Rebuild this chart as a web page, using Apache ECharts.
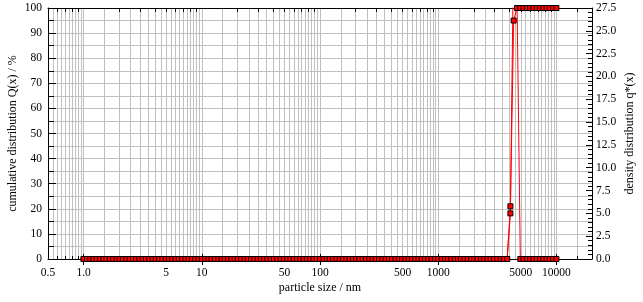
<!DOCTYPE html>
<html><head><meta charset="utf-8">
<script src="https://cdn.jsdelivr.net/npm/echarts@6/dist/echarts.min.js"></script>
<style>html,body{margin:0;padding:0;background:#fff}#c{width:643px;height:302px}</style>
</head><body><div id="c"></div>
<script>
// particle size classes (nm)
const sizes = [
 1.00,1.07,1.14,1.21,1.29,1.38,1.47,1.56,1.67,1.78,1.90,2.02,2.15,2.30,2.45,2.61,2.78,2.97,3.16,3.37,3.59,3.83,4.08,4.35,4.64,4.95,5.27,5.62,5.99,6.39,6.81,7.26,7.74,8.25,8.80,9.38,
 10.0,10.7,11.4,12.1,12.9,13.8,14.7,15.6,16.7,17.8,19.0,20.2,21.5,23.0,24.5,26.1,27.8,29.7,31.6,33.7,35.9,38.3,40.8,43.5,46.4,49.5,52.7,56.2,59.9,63.9,68.1,72.6,77.4,82.5,88.0,93.8,
 100,107,114,121,129,138,147,156,167,178,190,202,215,230,245,261,278,297,316,337,359,383,408,435,464,495,527,562,599,639,681,726,774,825,880,938,
 1000,1070,1140,1210,1290,1380,1470,1560,1670,1780,1900,2020,2150,2300,2450,2610,2780,2970,3160,3370,3590,3830,4080,4350,4640,4950,5270,5620,5990,6390,6810,7260,7740,8250,8800,9380,
 10000
];
// cumulative distribution Q(x) / %
const cumQ = [
 0,0,0,0,0,0,0,0,0,0,0,0,0,0,0,0,0,0,0,0,0,0,0,0,0,0,0,0,0,0,0,0,0,0,0,0,
 0,0,0,0,0,0,0,0,0,0,0,0,0,0,0,0,0,0,0,0,0,0,0,0,0,0,0,0,0,0,0,0,0,0,0,0,
 0,0,0,0,0,0,0,0,0,0,0,0,0,0,0,0,0,0,0,0,0,0,0,0,0,0,0,0,0,0,0,0,0,0,0,0,
 0,0,0,0,0,0,0,0,0,0,0,0,0,0,0,0,0,0,0,0,0,0,21,95,100,100,100,100,100,100,100,100,100,100,100,100,
 100
];
// density distribution q*(x)
const densQ = [
 0,0,0,0,0,0,0,0,0,0,0,0,0,0,0,0,0,0,0,0,0,0,0,0,0,0,0,0,0,0,0,0,0,0,0,0,
 0,0,0,0,0,0,0,0,0,0,0,0,0,0,0,0,0,0,0,0,0,0,0,0,0,0,0,0,0,0,0,0,0,0,0,0,
 0,0,0,0,0,0,0,0,0,0,0,0,0,0,0,0,0,0,0,0,0,0,0,0,0,0,0,0,0,0,0,0,0,0,0,0,
 0,0,0,0,0,0,0,0,0,0,0,0,0,0,0,0,0,0,0,0,0,0,5.0,35,28.5,0,0,0,0,0,0,0,0,0,0,0,
 0
];
const xLabelVals = [0.5,1,5,10,50,100,500,1000,5000,10000];
const xLabelText = ['0.5','1.0','5','10','50','100','500','1000','5000','10000'];
const xMajorTicks = [1,10,100,1000,10000];
const yLeftLabels = [0,10,20,30,40,50,60,70,80,90,100];
const yRightLabels = [0,2.5,5,7.5,10,12.5,15,17.5,20,22.5,25,27.5];

const XMIN = 0.5, XMAX = 20000;
function r(v){ return parseFloat(v.toPrecision(6)); }
// vertical grid lines: steps of 0.5 * decade
const gridVals = [];
for (let e = -1; e <= 4; e++) {
  const b = Math.pow(10, e);
  for (let i = 0; i <= 18; i++) {
    const v = r(b * (1 + 0.5 * i));
    if (v > XMIN && v < XMAX && gridVals.indexOf(v) < 0) gridVals.push(v);
  }
}
// minor ticks: 2..9 per decade
const minorTicks = [];
for (let e = -1; e <= 4; e++) {
  const b = Math.pow(10, e);
  for (let m = 2; m <= 9; m++) {
    const v = r(b * m);
    if (v > XMIN && v < XMAX) minorTicks.push(v);
  }
}
minorTicks.push(15000);

const FONT = 'Liberation Serif';
const lbl = {color:'#000', fontFamily:FONT, fontSize:11.5};
const nameStyle = {color:'#000', fontFamily:FONT, fontSize:12};
const blackLine = {color:'#000', width:1};

function xAx(extra){
  return Object.assign({
    type:'log', logBase:10, min:XMIN, max:XMAX, gridIndex:0,
    axisLine:{show:false}, axisTick:{show:false}, axisLabel:{show:false},
    splitLine:{show:false}, minorTick:{show:false}, minorSplitLine:{show:false}
  }, extra);
}

const chart = echarts.init(document.getElementById('c'), null, {renderer:'canvas'});
chart.setOption({
  animation:false,
  backgroundColor:'#fff',
  grid:{left:48, right:51, top:8, bottom:43, containLabel:false, outerBoundsMode:'none'},
  xAxis:[
    xAx({position:'bottom', axisTick:{show:false, customValues:gridVals},
         splitLine:{show:true, lineStyle:{color:'#c0c0c0', width:1}}}),
    xAx({position:'bottom', axisLine:{show:true, onZero:false, lineStyle:blackLine},
         axisTick:{show:true, inside:true, length:3, customValues:minorTicks, lineStyle:blackLine},
         axisLabel:{show:true, customValues:xLabelVals, margin:8,
           formatter:function(v){ const i = xLabelVals.findIndex(t=>Math.abs(t-v)/t<1e-6); return i>=0?xLabelText[i]:''; },
           ...lbl},
         name:'particle size / nm', nameLocation:'middle', nameGap:23, nameMoveOverlap:false, nameTextStyle:nameStyle}),
    xAx({position:'bottom', axisTick:{show:true, inside:true, length:5, customValues:xMajorTicks, lineStyle:blackLine}}),
    xAx({position:'top', axisLine:{show:true, onZero:false, lineStyle:blackLine},
         axisTick:{show:true, inside:true, length:4, customValues:minorTicks, lineStyle:blackLine}}),
    xAx({position:'top', axisTick:{show:true, inside:true, length:6, customValues:xMajorTicks, lineStyle:blackLine}})
  ],
  yAxis:[
    {type:'value', min:0, max:100, interval:5, position:'left',
     axisLine:{show:false}, axisTick:{show:false}, axisLabel:{show:false},
     splitLine:{show:true, showMinLine:false, showMaxLine:false, lineStyle:{color:'#c0c0c0', width:1}}},
    {type:'value', min:0, max:100, interval:10, position:'left',
     axisLine:{show:true, onZero:false, lineStyle:blackLine},
     axisTick:{show:true, inside:true, length:8, lineStyle:blackLine},
     minorTick:{show:true, splitNumber:2, length:6, lineStyle:blackLine},
     axisLabel:{show:true, customValues:yLeftLabels, margin:6, ...lbl},
     splitLine:{show:false},
     name:'cumulative distribution Q(x) / %', nameLocation:'middle', nameGap:29, nameMoveOverlap:false, nameTextStyle:nameStyle},
    {type:'value', min:0, max:27.5, interval:2.5, position:'right',
     axisLine:{show:true, onZero:false, lineStyle:blackLine},
     axisTick:{show:true, inside:true, length:6, lineStyle:blackLine},
     minorTick:{show:true, splitNumber:5, length:4, lineStyle:blackLine},
     axisLabel:{show:true, customValues:yRightLabels, margin:4, formatter:v=>v.toFixed(1), ...lbl},
     splitLine:{show:false},
     name:'density distribution q*(x)', nameLocation:'middle', nameGap:32, nameMoveOverlap:false, nameTextStyle:nameStyle}
  ],
  series:[
    {type:'line', name:'q*', xAxisIndex:1, yAxisIndex:2,
     data:sizes.map((s,i)=>[s, densQ[i]]),
     symbol:'rect', symbolSize:5, showAllSymbol:true, clip:true,
     itemStyle:{color:'#ff0000', borderColor:'#000', borderWidth:1},
     lineStyle:{color:'#ff0000', width:1}, emphasis:{disabled:true}},
    {type:'line', name:'Q', xAxisIndex:1, yAxisIndex:1,
     data:sizes.map((s,i)=>[s, cumQ[i]]),
     symbol:'rect', symbolSize:5, showAllSymbol:true, clip:true,
     itemStyle:{color:'#ff0000', borderColor:'#000', borderWidth:1},
     lineStyle:{color:'#ff0000', width:1}, emphasis:{disabled:true}}
  ]
});
</script></body></html>
